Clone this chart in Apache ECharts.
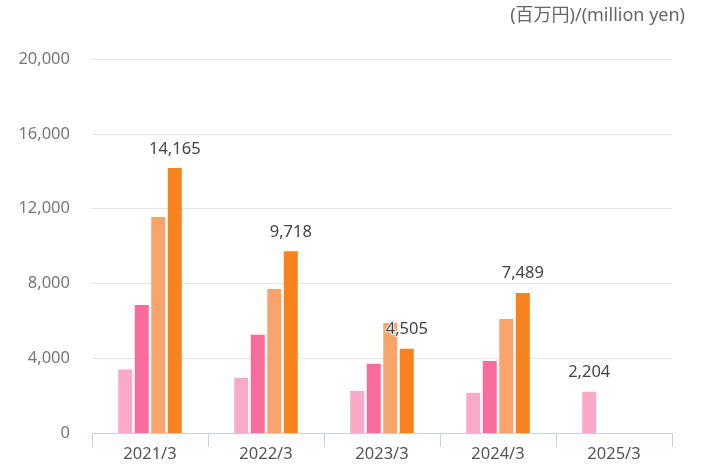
<!DOCTYPE html>
<html>
<head>
<meta charset="utf-8">
<script src="https://cdn.jsdelivr.net/npm/echarts@6/dist/echarts.min.js"></script>
<style>
  html, body { margin: 0; padding: 0; background: #fff; }
  #chart { width: 703px; height: 464px; }
</style>
</head>
<body>
<div id="chart"></div>
<script>
// Fiscal years (ending in March)
const categories = ['2021/3', '2022/3', '2023/3', '2024/3', '2025/3'];

// Four series per fiscal year (million yen)
const seriesA = [3400, 2950, 2250, 2150, 2204];
const seriesB = [6850, 5250, 3700, 3850, null];
const seriesC = [11550, 7700, 5880, 6100, null];
const seriesD = [14165, 9718, 4505, 7489, null];

// Which points carry a value label
const labelA = [false, false, false, false, true];
const labelD = [true, true, true, true, false];

const yTicks = { min: 0, max: 20000, interval: 4000 };
const unitText = '(百万円)/(million yen)';

const colors = ['#f9aac9', '#f76b9d', '#f9a46a', '#f8821d'];
const fontFamily = "'Noto Sans', 'Noto Sans CJK JP', sans-serif";

function fmt(v) {
  return v.toLocaleString('en-US');
}

function withLabels(values, flags) {
  return values.map((v, i) => ({
    value: v,
    label: { show: flags[i] && v != null }
  }));
}

const valueLabel = {
  position: 'top',
  distance: 11,
  color: '#444',
  fontSize: 16.5,
  fontFamily: fontFamily,
  textBorderColor: '#fff',
  textBorderWidth: 2,
  formatter: p => fmt(p.value)
};

const chart = echarts.init(document.getElementById('chart'), null, { renderer: 'canvas' });

chart.setOption({
  animation: false,
  backgroundColor: '#fff',
  textStyle: { fontFamily: fontFamily },
  graphic: [{
    type: 'text',
    right: 18,
    top: 7,
    style: {
      text: unitText,
      fontSize: 18,
      fill: '#666',
      fontFamily: fontFamily
    }
  }],
  grid: { left: 92, right: 31, top: 59, bottom: 31 },
  xAxis: {
    type: 'category',
    data: categories,
    axisLine: { lineStyle: { color: '#c8d0e4', width: 1 } },
    axisTick: { show: true, length: 14, lineStyle: { color: '#c8d0e4' } },
    axisLabel: { color: '#555', fontSize: 16.5, margin: 13, fontFamily: fontFamily }
  },
  yAxis: {
    type: 'value',
    min: yTicks.min,
    max: yTicks.max,
    interval: yTicks.interval,
    axisLine: { show: false },
    axisTick: { show: false },
    axisLabel: {
      color: '#777',
      fontSize: 16.5,
      margin: 22,
      fontFamily: fontFamily,
      formatter: v => fmt(v)
    },
    splitLine: { lineStyle: { color: '#e6e6e6', width: 1 } }
  },
  series: [
    { type: 'bar', data: withLabels(seriesA, labelA), itemStyle: { color: colors[0] }, label: valueLabel, barWidth: 14, barGap: '18%' },
    { type: 'bar', data: seriesB, itemStyle: { color: colors[1] }, barWidth: 14, barGap: '18%' },
    { type: 'bar', data: seriesC, itemStyle: { color: colors[2] }, barWidth: 14, barGap: '18%' },
    { type: 'bar', data: withLabels(seriesD, labelD), itemStyle: { color: colors[3] }, label: valueLabel, barWidth: 14, barGap: '18%' }
  ]
});
</script>
</body>
</html>
